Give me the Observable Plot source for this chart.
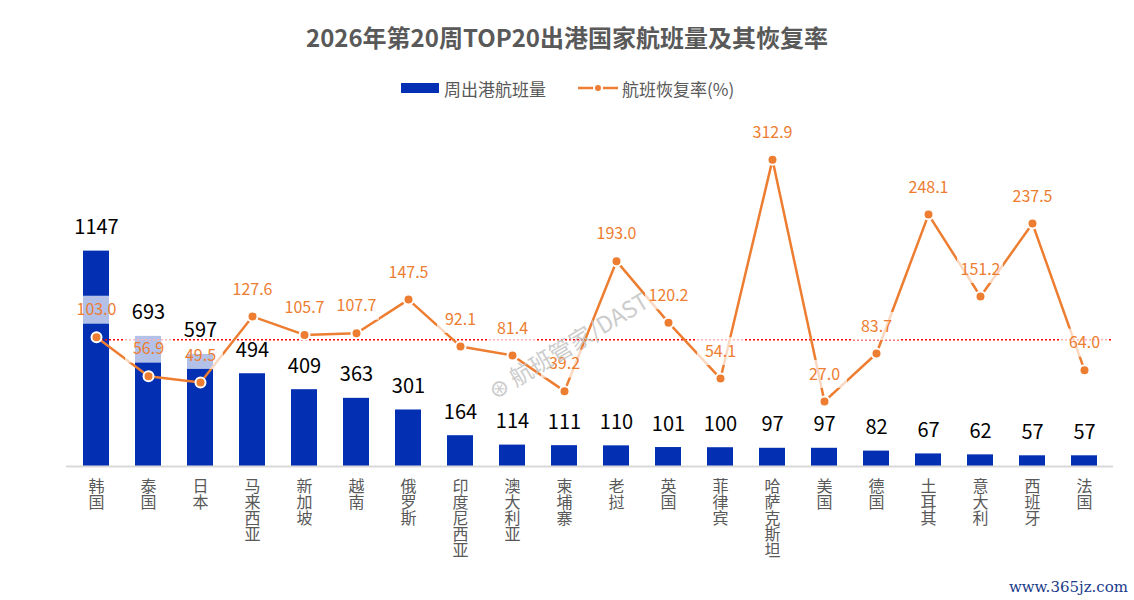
<!DOCTYPE html>
<html><head><meta charset="utf-8">
<script src="https://cdn.jsdelivr.net/npm/d3@7"></script>
<script src="https://cdn.jsdelivr.net/npm/@observablehq/plot@0.6"></script>
<style>
body{margin:0;background:#fff;font-family:"Noto Sans CJK SC","Noto Sans",sans-serif;}
#wrap{position:relative;width:1134px;height:600px;overflow:hidden;background:#fff}
#title{position:absolute;top:20px;left:0;width:1134px;text-align:center;font-size:24px;font-weight:bold;color:#595959;line-height:34px}
#legend{position:absolute;top:76px;left:0;width:1134px;height:24px;font-size:17px;color:#595959}
.lg{position:absolute;top:0;display:flex;align-items:center;height:24px;white-space:nowrap}
#chart{position:absolute;top:110px;left:0}
#wm{position:absolute;left:490px;top:374px;transform:rotate(-31deg);transform-origin:left center;font-size:23px;color:#c4c4c4;opacity:.85;white-space:nowrap}
#site{position:absolute;right:6px;bottom:4px;font-family:"DejaVu Serif",serif;font-size:15px;color:#1a3a8a}
</style></head>
<body><div id="wrap">
<div id="title">2026年第20周TOP20出港国家航班量及其恢复率</div>
<div id="legend">
  <div class="lg" style="left:401px"><span style="display:inline-block;width:38px;height:10px;background:#0330B3;margin-right:5px"></span>周出港航班量</div>
  <div class="lg" style="left:578px"><svg width="40" height="12" style="margin-right:4px"><line x1="0" y1="6" x2="40" y2="6" stroke="#ED7D31" stroke-width="2.5"/><circle cx="20" cy="6" r="4" fill="#ED7D31" stroke="white" stroke-width="2"/></svg>航班恢复率(%)</div>
</div>
<div id="chart"></div>
<div id="wm">⊛ 航班管家/DAST</div>
<div id="site">www.365jz.com</div>
</div>
<script>
const categories = ["韩国","泰国","日本","马来西亚","新加坡","越南","俄罗斯","印度尼西亚","澳大利亚","柬埔寨","老挝","英国","菲律宾","哈萨克斯坦","美国","德国","土耳其","意大利","西班牙","法国"];
const flights = [1147,693,597,494,409,363,301,164,114,111,110,101,100,97,97,82,67,62,57,57];
const rates = [103.0,56.9,49.5,127.6,105.7,107.7,147.5,92.1,81.4,39.2,193.0,120.2,54.1,312.9,27.0,83.7,248.1,151.2,237.5,64.0];
const referenceRate = 100;

const flightDomain = [0, 1800];
const rateDomain = [-50, 350];
const rateToFlight = r => (r - rateDomain[0]) * (flightDomain[1] - flightDomain[0]) / (rateDomain[1] - rateDomain[0]);

const data = categories.map((c, i) => ({country: c, flights: flights[i], rate: rates[i], rateY: rateToFlight(rates[i])}));
const font = '"Noto Sans CJK SC","Noto Sans",sans-serif';

const chart = Plot.plot({
  width: 1134, height: 490,
  marginTop: 18, marginBottom: 134, marginLeft: 66, marginRight: 21,
  x: {domain: categories, paddingInner: 0.5, paddingOuter: 0.25, axis: null},
  y: {domain: flightDomain, axis: null},
  style: {fontFamily: font, background: "white", overflow: "visible"},
  marks: [
    Plot.barY(data, {x: "country", y: "flights", fill: "#0330B3"}),
    Plot.ruleY([0], {stroke: "#d9d9d9", strokeWidth: 2}),
    Plot.text(categories, {x: d => d, text: d => d, frameAnchor: "bottom", dy: 0, lineAnchor: "top", textAnchor: "start",
      fontSize: 16, fill: "#595959", className: "xlab"}),
    Plot.ruleY([rateToFlight(referenceRate)], {stroke: "#ff0000", strokeWidth: 1.6, strokeDasharray: "2,2", insetLeft: 27}),
    Plot.line(data, {x: "country", y: "rateY", stroke: "#ED7D31", strokeWidth: 2.5}),
    Plot.barY(data, {x: "country", y1: "rateY", y2: "rateY", insetTop: -41, insetBottom: 13, insetLeft: -10, insetRight: -10, fill: "white", fillOpacity: 0.7}),
    Plot.text(data, {x: "country", y: "rateY", text: d => d.rate.toFixed(1), dy: -27, fill: "#ED7D31", fontSize: 16}),
    Plot.dot(data, {x: "country", y: "rateY", r: 5, fill: "#ED7D31", stroke: "white", strokeWidth: 2}),
    Plot.text(data, {x: "country", y: "flights", text: d => String(d.flights), dy: -17, lineAnchor: "bottom", fill: "black", fontSize: 20})
  ]
});
d3.select(chart).selectAll(".xlab text")
  .style("writing-mode", "vertical-rl")
  .style("text-orientation", "upright")
  .attr("dy", null)
  .attr("text-anchor", "start");
document.getElementById("chart").appendChild(chart);
</script>
</body></html>
